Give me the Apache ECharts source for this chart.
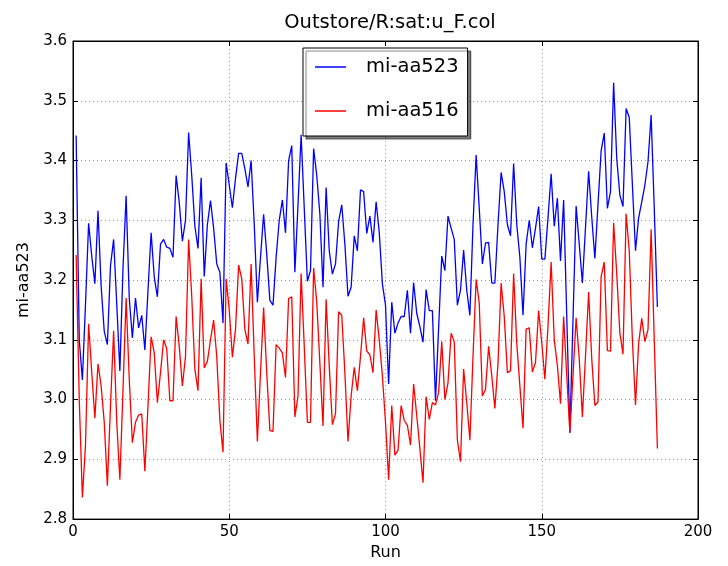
<!DOCTYPE html>
<html>
<head>
<meta charset="utf-8">
<script src="https://cdn.jsdelivr.net/npm/echarts@6/dist/echarts.min.js"></script>
<style>
  html, body { margin: 0; padding: 0; background: #ffffff; }
  #chart { width: 728px; height: 566px; }
</style>
</head>
<body>
<div id="chart"></div>
<script>
// Run numbers 1..187
const runs = [];
for (let r = 1; r <= 187; r++) runs.push(r);

const aa523 = [
  3.442, 3.100, 3.033, 3.160, 3.295, 3.240, 3.194, 3.316, 3.190, 3.114,
  3.092, 3.224, 3.268, 3.160, 3.048, 3.220, 3.341, 3.170, 3.103, 3.170,
  3.120, 3.141, 3.083, 3.183, 3.279, 3.205, 3.172, 3.260, 3.268, 3.255,
  3.253, 3.238, 3.375, 3.330, 3.265, 3.300, 3.447, 3.375, 3.290, 3.253,
  3.371, 3.206, 3.293, 3.333, 3.287, 3.227, 3.213, 3.128, 3.396, 3.359,
  3.321, 3.370, 3.412, 3.412, 3.386, 3.356, 3.400, 3.293, 3.163, 3.238,
  3.310, 3.243, 3.166, 3.158, 3.238, 3.300, 3.334, 3.279, 3.400, 3.425,
  3.213, 3.326, 3.443, 3.320, 3.198, 3.216, 3.420, 3.375, 3.310, 3.188,
  3.355, 3.249, 3.210, 3.227, 3.298, 3.326, 3.260, 3.173, 3.188, 3.274,
  3.249, 3.351, 3.348, 3.278, 3.307, 3.263, 3.331, 3.280, 3.194, 3.158,
  3.026, 3.163, 3.111, 3.128, 3.139, 3.139, 3.183, 3.111, 3.196, 3.144,
  3.122, 3.096, 3.184, 3.149, 3.149, 2.998, 3.120, 3.240, 3.216, 3.307,
  3.287, 3.268, 3.158, 3.183, 3.250, 3.183, 3.141, 3.293, 3.409, 3.320,
  3.227, 3.262, 3.263, 3.195, 3.195, 3.293, 3.380, 3.348, 3.293, 3.274,
  3.395, 3.293, 3.238, 3.141, 3.260, 3.300, 3.254, 3.287, 3.323, 3.235,
  3.235, 3.304, 3.378, 3.290, 3.337, 3.232, 3.334, 3.140, 2.945, 3.134,
  3.324, 3.260, 3.195, 3.288, 3.382, 3.305, 3.236, 3.327, 3.416, 3.446,
  3.320, 3.348, 3.530, 3.403, 3.342, 3.323, 3.487, 3.472, 3.360, 3.249,
  3.304, 3.331, 3.359, 3.398, 3.476, 3.320, 3.155
];

const aa516 = [
  3.242, 3.000, 2.836, 2.924, 3.127, 3.045, 2.969, 3.060, 3.023, 2.962,
  2.856, 2.990, 3.115, 2.962, 2.866, 3.017, 3.170, 3.034, 2.928, 2.962,
  2.974, 2.976, 2.880, 2.990, 3.105, 3.078, 2.995, 3.045, 3.100, 3.085,
  2.998, 2.998, 3.139, 3.089, 3.023, 3.072, 3.268, 3.172, 3.050, 3.015,
  3.202, 3.053, 3.064, 3.100, 3.133, 3.072, 2.965, 2.912, 3.202, 3.150,
  3.071, 3.117, 3.225, 3.202, 3.117, 3.093, 3.227, 3.072, 2.930, 3.045,
  3.154, 3.045, 2.948, 2.947, 3.092, 3.086, 3.078, 3.037, 3.169, 3.172,
  2.971, 3.006, 3.211, 3.089, 2.962, 2.962, 3.220, 3.163, 3.061, 2.956,
  3.168, 3.056, 2.958, 2.976, 3.147, 3.141, 3.045, 2.930, 3.006, 3.054,
  3.015, 3.072, 3.137, 3.081, 3.075, 3.045, 3.150, 3.100, 3.040, 2.962,
  2.866, 2.990, 2.907, 2.915, 2.990, 2.965, 2.957, 2.924, 3.026, 2.973,
  2.918, 2.861, 3.005, 2.967, 2.995, 2.991, 3.012, 3.097, 3.000, 3.028,
  3.111, 3.097, 2.932, 2.896, 3.051, 2.995, 2.932, 3.072, 3.201, 3.161,
  3.006, 3.017, 3.089, 3.040, 2.985, 3.061, 3.195, 3.139, 3.045, 3.048,
  3.211, 3.094, 3.023, 2.952, 3.118, 3.120, 3.046, 3.062, 3.149, 3.095,
  3.034, 3.123, 3.230, 3.100, 3.057, 2.993, 3.139, 3.040, 2.944, 3.040,
  3.137, 3.068, 2.971, 3.073, 3.180, 3.068, 2.990, 2.996, 3.206, 3.230,
  3.082, 3.081, 3.296, 3.210, 3.111, 3.076, 3.311, 3.249, 3.100, 2.991,
  3.094, 3.136, 3.097, 3.117, 3.285, 3.100, 2.918
];

const xTicks = { min: 0, max: 200, step: 50 };
const yTicks = { min: 2.8, max: 3.6, step: 0.1 };

const FONT = 'DejaVu Sans';
const chart = echarts.init(document.getElementById('chart'), null, { renderer: 'canvas' });

const pairs = (vals) => vals.map((v, i) => [runs[i], v]);

const tickStyle = { show: true, inside: true, length: 5, lineStyle: { color: '#000', width: 1 } };
const gridLine = { show: true, lineStyle: { color: '#9a9a9a', width: 1, type: [1, 3] } };

chart.setOption({
  backgroundColor: '#ffffff',
  animation: false,
  title: {
    text: 'Outstore/R:sat:u_F.col',
    left: 385,
    top: 8,
    textAlign: 'center',
    textStyle: { fontFamily: FONT, fontSize: 19.5, fontWeight: 'normal', color: '#000' }
  },
  grid: {
    left: 73, right: 30, top: 41, bottom: 40,
    show: true, borderColor: '#000', borderWidth: 1, backgroundColor: 'transparent'
  },
  legend: {
    orient: 'vertical',
    left: 303,
    top: 48,
    data: [
      { name: 'mi-aa523', icon: 'rect' },
      { name: 'mi-aa516', icon: 'rect' }
    ],
    itemWidth: 31,
    itemHeight: 1.5,
    itemGap: 22,
    padding: [8, 9, 14, 12],
    backgroundColor: '#ffffff',
    borderColor: '#000',
    borderWidth: 1,
    borderRadius: 0,
    shadowColor: 'rgba(0,0,0,0.5)',
    shadowBlur: 1,
    shadowOffsetX: 3,
    shadowOffsetY: 3,
    textStyle: { fontFamily: FONT, fontSize: 19.5, color: '#000', lineHeight: 22, padding: [0, 0, 0, 15] }
  },
  xAxis: [
    {
      type: 'value',
      min: xTicks.min, max: xTicks.max, interval: xTicks.step,
      name: 'Run', nameLocation: 'middle', nameGap: 20,
      nameTextStyle: { fontFamily: FONT, fontSize: 16, color: '#000' },
      axisLine: { show: true, onZero: false, lineStyle: { color: '#000', width: 1 } },
      axisTick: tickStyle,
      axisLabel: { fontFamily: FONT, fontSize: 15, color: '#000', margin: 6 },
      splitLine: gridLine
    },
    {
      type: 'value', position: 'top',
      min: xTicks.min, max: xTicks.max, interval: xTicks.step,
      axisLine: { show: true, onZero: false, lineStyle: { color: '#000', width: 1 } },
      axisTick: tickStyle,
      axisLabel: { show: false },
      splitLine: { show: false }
    }
  ],
  yAxis: [
    {
      type: 'value',
      min: yTicks.min, max: yTicks.max, interval: yTicks.step,
      name: 'mi-aa523', nameLocation: 'middle', nameGap: 29, nameRotate: 90,
      nameTextStyle: { fontFamily: FONT, fontSize: 16, color: '#000' },
      axisLine: { show: true, onZero: false, lineStyle: { color: '#000', width: 1 } },
      axisTick: tickStyle,
      axisLabel: {
        fontFamily: FONT, fontSize: 15, color: '#000', margin: 6,
        formatter: (v) => v.toFixed(1)
      },
      splitLine: gridLine
    },
    {
      type: 'value', position: 'right',
      min: yTicks.min, max: yTicks.max, interval: yTicks.step,
      axisLine: { show: true, onZero: false, lineStyle: { color: '#000', width: 1 } },
      axisTick: tickStyle,
      axisLabel: { show: false },
      splitLine: { show: false }
    }
  ],
  series: [
    {
      name: 'mi-aa523', type: 'line', data: pairs(aa523),
      xAxisIndex: 0, yAxisIndex: 0,
      showSymbol: false, symbol: 'none',
      lineStyle: { color: '#0000ff', width: 1.3 },
      itemStyle: { color: '#0000ff' }
    },
    {
      name: 'mi-aa516', type: 'line', data: pairs(aa516),
      xAxisIndex: 0, yAxisIndex: 0,
      showSymbol: false, symbol: 'none',
      lineStyle: { color: '#ff0000', width: 1.3 },
      itemStyle: { color: '#ff0000' }
    }
  ]
});
</script>
</body>
</html>
